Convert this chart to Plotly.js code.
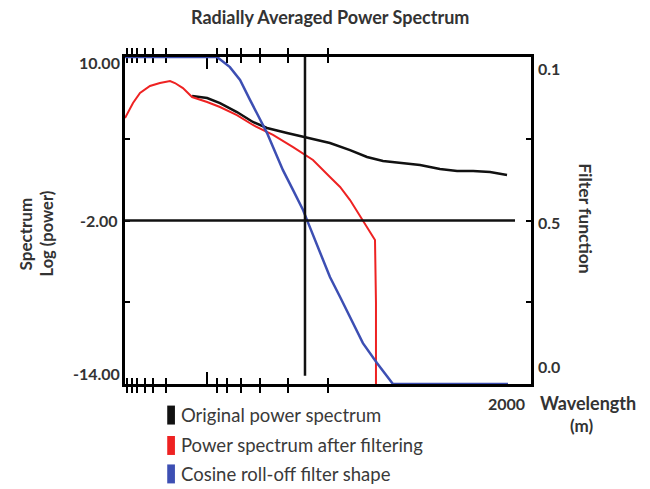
<!DOCTYPE html>
<html>
<head>
<meta charset="utf-8">
<script src="https://cdn.plot.ly/plotly-3.0.1.min.js"></script>
<style>html,body{margin:0;padding:0;background:#fff;}#chart{width:650px;height:489px;}</style>
</head>
<body>
<div id="chart"></div>
<script>
// Original power spectrum (left axis, log power)
var origX = [344, 421, 487, 574, 656, 728, 831, 933, 1051, 1154, 1241, 1323, 1410, 1513, 1615, 1703, 1785, 1872, 1959];
var origY = [7.14, 6.99, 6.62, 5.96, 5.23, 4.79, 4.42, 4.06, 3.69, 3.17, 2.66, 2.37, 2.22, 2.07, 1.78, 1.63, 1.63, 1.56, 1.34];

// Power spectrum after filtering (left axis)
var filtX = [0, 41, 77, 128, 179, 231, 256, 297, 344, 421, 487, 574, 656, 759, 862, 964, 1051, 1103, 1154, 1195, 1241, 1282, 1287, 1287];
var filtY = [5.52, 6.62, 7.36, 7.87, 8.09, 8.24, 8.09, 7.72, 7.06, 6.70, 6.33, 5.74, 5.01, 4.28, 3.39, 2.44, 1.19, 0.46, -0.50, -1.45, -2.48, -3.43, -8.06, -14.0];

// Cosine roll-off filter shape (right axis, filter function)
var cosX = [0, 472, 538, 590, 641, 692, 728, 759, 810, 862, 913, 933, 1000, 1051, 1103, 1169, 1220, 1292, 1374, 1964];
var cosY = [1.0, 1.0, 0.969, 0.930, 0.869, 0.807, 0.768, 0.725, 0.654, 0.593, 0.532, 0.502, 0.401, 0.327, 0.266, 0.187, 0.125, 0.064, 0.0, 0.0];

// Axis ticks
var xMinorTicks = [10, 36, 62, 103, 144, 210, 472, 523, 595, 692, 836, 1041];
var xMajorTicks = [421];
var leftTicks = [10, 4, -2, -8, -14];
var leftLabels = ["10.00", "-2.00", "-14.00"];
var rightTicks = [0, 0.25, 0.5, 0.75, 1];
var rightLabels = ["0.1", "0.5", "0.0"];
var xLabel = "2000";
var seriesNames = ["Original power spectrum", "Power spectrum after filtering", "Cosine roll-off filter shape"];
var seriesColors = ["#111111", "#ee2222", "#3d4fb3"];

var traces = [
  {x: origX, y: origY, mode: 'lines', line: {color: seriesColors[0], width: 2.5}, name: seriesNames[0], showlegend: false, yaxis: 'y', xaxis: 'x'},
  {x: filtX, y: filtY, mode: 'lines', line: {color: seriesColors[1], width: 2}, name: seriesNames[1], showlegend: false, yaxis: 'y', xaxis: 'x'},
  {x: cosX, y: cosY, mode: 'lines', line: {color: seriesColors[2], width: 2.5}, name: seriesNames[2], showlegend: false, yaxis: 'y2', xaxis: 'x'}
];

var fam = 'Lato, "DejaVu Sans", sans-serif';
function f(size) { return {family: fam, size: size, color: '#333333'}; }
var legFont = {family: fam, size: 18.5, color: '#3a3a3a'};

var annotations = [
  {xref: 'paper', yref: 'y', x: 0, y: 9.6, text: '<b>' + leftLabels[0] + '</b>', showarrow: false, xanchor: 'right', xshift: -3, font: f(16)},
  {xref: 'paper', yref: 'y', x: 0, y: -2, text: '<b>' + leftLabels[1] + '</b>', showarrow: false, xanchor: 'right', xshift: -5, font: f(16)},
  {xref: 'paper', yref: 'y', x: 0, y: -13.2, text: '<b>' + leftLabels[2] + '</b>', showarrow: false, xanchor: 'right', xshift: -3, font: f(16)},
  {xref: 'paper', yref: 'y2', x: 1, y: 0.965, text: '<b>' + rightLabels[0] + '</b>', showarrow: false, xanchor: 'left', xshift: 5, font: f(16)},
  {xref: 'paper', yref: 'y2', x: 1, y: 0.495, text: '<b>' + rightLabels[1] + '</b>', showarrow: false, xanchor: 'left', xshift: 5, font: f(16)},
  {xref: 'paper', yref: 'y2', x: 1, y: 0.055, text: '<b>' + rightLabels[2] + '</b>', showarrow: false, xanchor: 'left', xshift: 5, font: f(16)},
  {xref: 'x', yref: 'paper', x: 1954, y: 0, text: '<b>' + xLabel + '</b>', showarrow: false, yanchor: 'middle', yshift: -19, font: f(16)},
  {xref: 'paper', yref: 'paper', x: 1, y: 0, text: '<b>Wavelength</b>', showarrow: false, xanchor: 'center', yanchor: 'middle', xshift: 57, yshift: -19, font: f(18)},
  {xref: 'paper', yref: 'paper', x: 1, y: 0, text: '<b>(m)</b>', showarrow: false, xanchor: 'center', yanchor: 'middle', xshift: 51, yshift: -41, font: f(17)},
  {xref: 'paper', yref: 'paper', x: -0.275, y: 0.46, text: '<b>Spectrum</b>', showarrow: false, textangle: -90, font: f(17)},
  {xref: 'paper', yref: 'paper', x: -0.222, y: 0.46, text: '<b>Log (power)</b>', showarrow: false, textangle: -90, font: f(16.5)},
  {xref: 'paper', yref: 'paper', x: 1.163, y: 0.505, text: '<b>Filter function</b>', showarrow: false, textangle: 90, font: f(17.5)}
];

var shapes = [
  {type: 'line', xref: 'x', yref: 'y', x0: 923, x1: 923, y0: 10, y1: -13.4, line: {color: '#111', width: 2.5}},
  {type: 'line', xref: 'x', yref: 'y', x0: 0, x1: 2000, y0: -2, y1: -2, line: {color: '#111', width: 2.5}}
];

// Legend swatches and labels
var legY = [-0.095, -0.188, -0.275];
for (var i = 0; i < 3; i++) {
  shapes.push({type: 'rect', xref: 'paper', yref: 'paper', x0: 0.104, x1: 0.123, y0: legY[i] - 0.029, y1: legY[i] + 0.029, fillcolor: seriesColors[i], line: {width: 0}});
  annotations.push({xref: 'paper', yref: 'paper', x: 0.133, y: legY[i], text: seriesNames[i], showarrow: false, xanchor: 'left', yanchor: 'middle', font: legFont});
}

var layout = {
  width: 650, height: 489,
  margin: {l: 125, r: 119, t: 57, b: 105},
  paper_bgcolor: '#ffffff', plot_bgcolor: '#ffffff',
  showlegend: false,
  title: {text: '<b>Radially Averaged Power Spectrum</b>', x: 0.508, xanchor: 'center', y: 0.963, yanchor: 'middle',
          font: {family: fam, size: 18, color: '#333333'}},
  xaxis: {range: [0, 2082], showgrid: false, zeroline: false, showline: true, linecolor: '#000', linewidth: 3,
          mirror: 'allticks', ticks: 'inside', ticklen: 6, tickwidth: 2, tickcolor: '#000', layer: 'below traces',
          tickmode: 'array', tickvals: xMinorTicks, showticklabels: false, fixedrange: true},
  xaxis2: {range: [0, 2082], overlaying: 'x', anchor: 'y', showgrid: false, zeroline: false, showline: false,
           mirror: 'allticks', ticks: 'inside', ticklen: 12, tickwidth: 2, tickcolor: '#000', layer: 'below traces',
           tickmode: 'array', tickvals: xMajorTicks, showticklabels: false},
  yaxis: {range: [-14, 10], showgrid: false, zeroline: false, showline: true, linecolor: '#000', linewidth: 3, layer: 'below traces',
          ticks: 'inside', ticklen: 5, tickwidth: 2, tickcolor: '#000', tickmode: 'array', tickvals: leftTicks, showticklabels: false},
  yaxis2: {range: [0, 1], overlaying: 'y', side: 'right', showgrid: false, zeroline: false, showline: true, linecolor: '#000', linewidth: 3, layer: 'below traces',
           ticks: 'inside', ticklen: 5, tickwidth: 2, tickcolor: '#000', tickmode: 'array', tickvals: rightTicks, showticklabels: false},
  annotations: annotations,
  shapes: shapes
};

traces.push({x: [0], y: [0], xaxis: 'x2', yaxis: 'y', mode: 'markers', marker: {opacity: 0}, hoverinfo: 'skip', showlegend: false});

Plotly.newPlot('chart', traces, layout, {displayModeBar: false, staticPlot: true});
</script>
</body>
</html>
